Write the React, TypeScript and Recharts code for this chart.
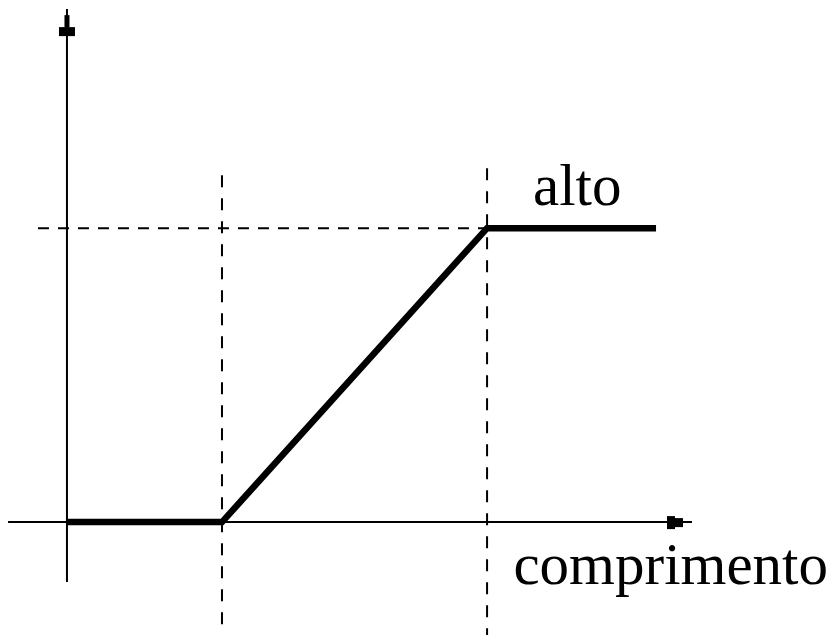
import { LineChart, Line, XAxis, YAxis, ReferenceLine, ReferenceDot } from "recharts";

// comprimento (x) vs nível (0 = baixo, 1 = alto), piecewise membership curve
const xs = [0, 1, 2.71, 3.8];
const levels = [0, 0, 1, 1];
const breaks = [1, 2.71];
const labelTop = "alto";
const labelRight = "comprimento";

const data = xs.map((x, i) => ({ x, y: levels[i] }));

const W = 834;
const H = 635;
const X_DOMAIN: [number, number] = [-0.432, 4.948];
const Y_DOMAIN: [number, number] = [-0.384, 1.776];
const INK = "#000";
const FONT = "'Liberation Serif', 'Times New Roman', serif";

function ArrowUp(props: any) {
  const { cx, cy } = props;
  if (cx === undefined) return null;
  return (
    <g fill={INK}>
      <rect x={cx - 2.5} y={cy + 6} width={5} height={12} />
      <rect x={cx - 8} y={cy + 18} width={16} height={9} />
    </g>
  );
}

function ArrowRight(props: any) {
  const { cx, cy } = props;
  if (cx === undefined) return null;
  return (
    <g fill={INK}>
      <rect x={cx - 25} y={cy - 6} width={8} height={13} />
      <rect x={cx - 17} y={cy - 4} width={8} height={9} />
    </g>
  );
}

const TextMark = (text: string) => (props: any) => {
  const { cx, cy } = props;
  if (cx === undefined) return null;
  return (
    <text x={cx} y={cy} fill={INK} fontSize={59} fontFamily={FONT}>
      {text}
    </text>
  );
};

export default function App() {
  return (
    <div style={{ position: "absolute", left: 0, top: 0, width: W, height: H, background: "#fff" }}>
      <LineChart width={W} height={H} data={data} margin={{ top: 0, right: 0, left: 0, bottom: 0 }}>
        <XAxis type="number" dataKey="x" domain={X_DOMAIN} allowDataOverflow hide />
        <YAxis type="number" domain={Y_DOMAIN} allowDataOverflow hide />

        {/* axes */}
        <ReferenceLine segment={[{ x: -0.38, y: 0 }, { x: 4.032, y: 0 }]} stroke={INK} strokeWidth={2} />
        <ReferenceLine segment={[{ x: 0, y: -0.204 }, { x: 0, y: 1.745 }]} stroke={INK} strokeWidth={2} />
        <ReferenceDot x={0} y={1.745} r={0} shape={(p: any) => <ArrowUp {...p} />} />
        <ReferenceDot x={4.032} y={0} r={0} shape={(p: any) => <ArrowRight {...p} />} />

        {/* guides */}
        <ReferenceLine segment={[{ x: -0.187, y: 1 }, { x: breaks[1], y: 1 }]}
          stroke={INK} strokeWidth={2} strokeDasharray="11 9" />
        <ReferenceLine segment={[{ x: breaks[0], y: 1.18 }, { x: breaks[0], y: -0.384 }]}
          stroke={INK} strokeWidth={2} strokeDasharray="12 11" />
        <ReferenceLine segment={[{ x: breaks[1], y: 1.204 }, { x: breaks[1], y: -0.384 }]}
          stroke={INK} strokeWidth={2} strokeDasharray="12 11" />

        <Line type="linear" dataKey="y" stroke={INK} strokeWidth={6.5} dot={false} activeDot={false}
          strokeLinejoin="miter" isAnimationActive={false} />

        <ReferenceDot x={3.006} y={1.078} r={0} shape={TextMark(labelTop)} />
        <ReferenceDot x={2.88} y={-0.211} r={0} shape={TextMark(labelRight)} />
      </LineChart>
    </div>
  );
}
